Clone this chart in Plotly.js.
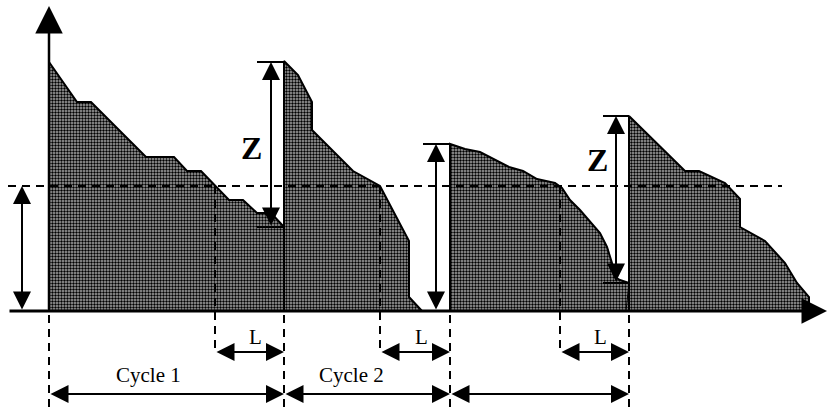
<!DOCTYPE html>
<html>
<head>
<meta charset="utf-8">
<script src="https://cdn.plot.ly/plotly-3.0.1.min.js"></script>
<style>html,body{margin:0;padding:0;background:#fff}#chart{width:827px;height:410px}</style>
</head>
<body>
<div id="chart"></div>
<script>
// Level profiles (x = time, h = level above baseline)
var c1x = [49, 49, 77, 91, 146, 174, 187, 201, 229, 243, 257, 271, 284, 284];
var c1h = [0, 249, 209, 209, 154, 154, 140, 140, 111, 111, 98, 98, 84, 0];
var c2x = [284, 284, 298, 312, 312, 353, 380, 409, 409, 422];
var c2h = [0, 250, 236, 209, 181, 140, 125, 70, 14, 0];
var c3x = [450, 450, 465, 480, 509, 523, 537, 555, 562, 570, 580, 590, 600, 607, 612, 615, 620, 629, 629];
var c3h = [0, 167, 162, 159, 144, 140, 132, 128, 123, 111, 101, 89, 78, 64, 48, 34, 31, 28, 0];
var c4x = [629, 629, 685, 699, 725, 740, 740, 765, 785, 797, 809, 809];
var c4h = [0, 195, 140, 140, 128, 112, 84, 70, 48, 28, 14, 0];

var cycleStarts = [49, 284, 450, 629];
var threshold = 125;
var crossX = [215, 380, 560];
var cycleLabels = ['Cycle 1', 'Cycle 2'];
var zLabel = 'Z';
var lLabel = 'L';

var fillStyle = {shape: '.', fgcolor: '#000', bgcolor: '#a8a8a8', size: 3, solidity: 0.5};

function profile(x, h) {
  return {x: x, y: h, mode: 'lines', fill: 'toself', fillcolor: '#707070',
    fillpattern: fillStyle,
    line: {color: '#000', width: 2}, hoverinfo: 'skip', showlegend: false};
}
var traces = [profile(c1x, c1h), profile(c2x, c2h), profile(c3x, c3h), profile(c4x, c4h)];
traces.push({x: [629, 626], y: [28, 0], mode: 'lines', line: {color: '#000', width: 1}, showlegend: false, hoverinfo: 'skip'});

var lArrowY = -41, cycleArrowY = -83;

var shapes = [];
function ln(x0, y0, x1, y1, w, dash) {
  shapes.push({type: 'line', xref: 'x', yref: 'y', x0: x0, y0: y0, x1: x1, y1: y1,
    line: {color: '#000', width: w, dash: dash || 'solid'}});
}
// threshold dashed
ln(8, threshold, 782, threshold, 2, '8px,6px');
// dashed verticals
cycleStarts.forEach(function (x) { ln(x, -4, x, -99, 2, '8px,6px'); });
crossX.forEach(function (x) { ln(x, threshold, x, lArrowY, 2, '8px,6px'); });
// Z ticks
ln(257, c1h[1], 284, c1h[1], 2);
ln(257, c1h[12], 284, c1h[12], 2);
ln(603, c4h[1], 629, c4h[1], 2);
ln(603, c3h[17], 629, c3h[17], 2);
ln(423, c3h[1], 450, c3h[1], 2);

var ann = [];
function arrow(x0, y0, x1, y1, both, w, size) {
  ann.push({x: x1, y: y1, ax: x0, ay: y0, xref: 'x', yref: 'y', axref: 'x', ayref: 'y',
    text: '', showarrow: true, arrowhead: 2, startarrowhead: 2, arrowsize: size || 1.8, startarrowsize: size || 1.8,
    arrowwidth: w || 2, arrowcolor: '#000', arrowside: both ? 'end+start' : 'end', standoff: 0, startstandoff: 0});
}
// axes
arrow(49, 0, 49, 305, false, 2.5, 2.2);
arrow(8, 0, 827, 0, false, 3, 1.7);
// level arrows
arrow(22, 0, 22, threshold, true);
arrow(436, 0, 436, c3h[1], true);
arrow(271, c1h[12], 271, c1h[1], true);
arrow(616, c3h[17], 616, c4h[1], true);
// L arrows
for (var i = 0; i < crossX.length; i++) {
  arrow(crossX[i], lArrowY, cycleStarts[i + 1], lArrowY, true);
  ann.push({x: (crossX[i] + cycleStarts[i + 1]) / 2 + 6, y: -26, text: lLabel, showarrow: false,
    font: {family: 'Liberation Serif', size: 21, color: '#000'}});
}
// cycle arrows
for (var j = 0; j < 3; j++) {
  arrow(cycleStarts[j], cycleArrowY, cycleStarts[j + 1], cycleArrowY, true);
}
cycleLabels.forEach(function (t, k) {
  ann.push({x: (cycleStarts[k] + cycleStarts[k + 1]) / 2 + (k === 0 ? -18 : -16), y: -64, text: t, showarrow: false,
    font: {family: 'Liberation Serif', size: 21, color: '#000'}});
});
// Z labels
ann.push({x: 251, y: 163, text: '<b>' + zLabel + '</b>', showarrow: false, font: {family: 'Liberation Serif', size: 32, color: '#000'}});
ann.push({x: 597, y: 151, text: '<b>' + zLabel + '</b>', showarrow: false, font: {family: 'Liberation Serif', size: 32, color: '#000'}});

var layout = {
  width: 827, height: 410, margin: {l: 0, r: 0, t: 0, b: 0},
  paper_bgcolor: '#fff', plot_bgcolor: '#fff',
  xaxis: {range: [0, 827], visible: false, fixedrange: true},
  yaxis: {range: [-99, 311], visible: false, fixedrange: true},
  shapes: shapes, annotations: ann, showlegend: false
};
Plotly.newPlot('chart', traces, layout, {staticPlot: true, displayModeBar: false});
</script>
</body>
</html>
